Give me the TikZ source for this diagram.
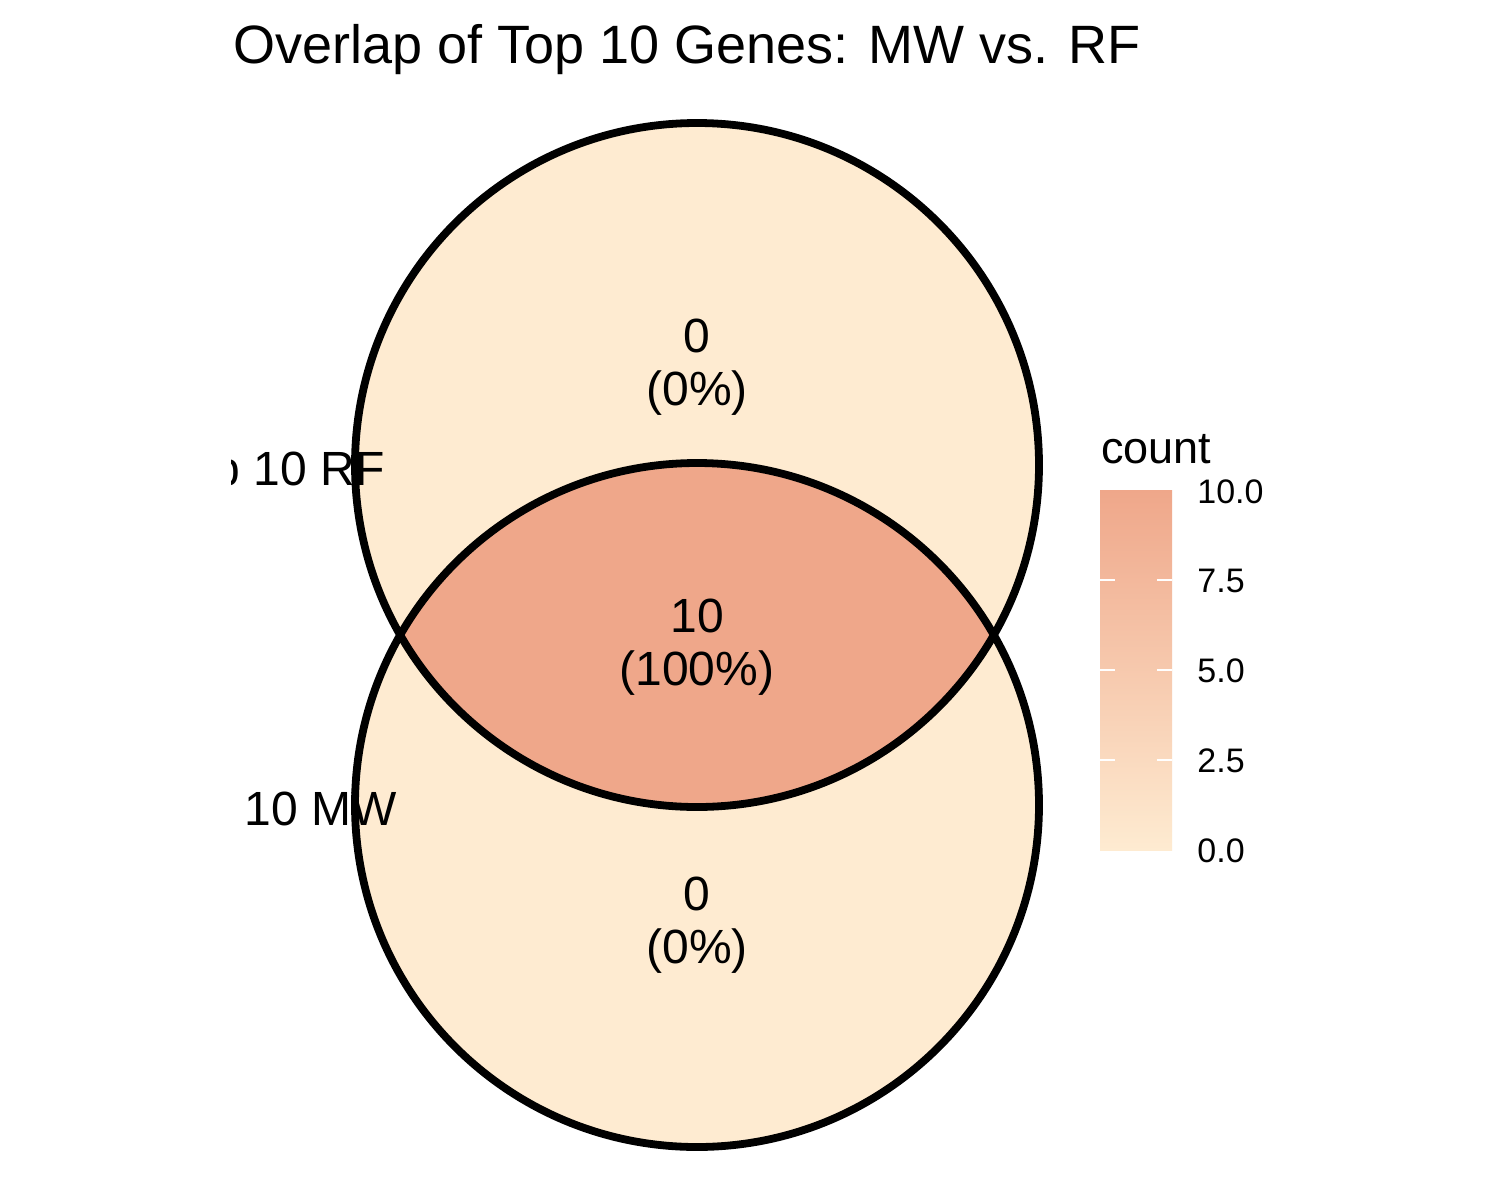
\documentclass[tikz,border=0pt]{standalone}
\usepackage{fontspec}
\setmainfont{Liberation Sans}
\definecolor{venlight}{RGB}{254,235,209}
\definecolor{vendark}{RGB}{239,167,138}
\begin{document}
\begin{tikzpicture}[x=0.5pt,y=-0.5pt,
  lbl/.style={font=\fontsize{24pt}{28pt}\selectfont, anchor=base, inner sep=0pt},
  ticklbl/.style={font=\fontsize{17pt}{20pt}\selectfont, anchor=base west, inner sep=0pt},
  border/.style={line width=3.9pt, black},
  tickmark/.style={white, line width=1pt}]
\useasboundingbox (0,0) rectangle (1500,1200);
\fill[white] (0,0) rectangle (1500,1200);
\coordinate (cA) at (697,465);
\coordinate (cB) at (697,805);
% fills
\fill[venlight] (cA) circle[radius=342];
\fill[venlight] (cB) circle[radius=342];
\begin{scope}
  \clip (cA) circle[radius=342];
  \fill[vendark] (cB) circle[radius=342];
\end{scope}
% region labels
\node[lbl] (a1) at (697,352) {0};
\node[lbl] (a2) at (697,405) {(0\%)};
\node[lbl] (ab1) at (697,632) {10};
\node[lbl] (ab2) at (697,685) {(100\%)};
\node[lbl] (b1) at (697,910) {0};
\node[lbl] (b2) at (697,963) {(0\%)};
% set labels (clipped at panel edge)
\begin{scope}
  \clip (231,0) rectangle (1500,1200);
  \node[lbl, anchor=base east] (setRF) at (385,485) {Top 10 RF};
  \node[lbl, anchor=base east] (setMW) at (397,825) {Top 10 MW};
\end{scope}
% borders
\draw[border] (cA) circle[radius=342];
\draw[border] (cB) circle[radius=342];
% title
\node[font=\fontsize{27pt}{32pt}\selectfont, anchor=base west, inner sep=0pt] (title) at (233,63) {Overlap of Top 10 Genes: MW vs. RF};
% legend
\node[font=\fontsize{22.5pt}{26pt}\selectfont, anchor=base west, inner sep=0pt] (legT) at (1101,463) {count};
\shade[top color=vendark, bottom color=venlight] (1100,490) rectangle (1172,850);
\foreach \yy in {580,670,760}{
  \draw[tickmark] (1100,\yy) -- (1115,\yy);
  \draw[tickmark] (1157,\yy) -- (1172,\yy);
}
\node[ticklbl] (t100) at (1197,503) {10.0};
\node[ticklbl] (t75) at (1197,592) {7.5};
\node[ticklbl] (t50) at (1197,682) {5.0};
\node[ticklbl] (t25) at (1197,772) {2.5};
\node[ticklbl] (t00) at (1197,862) {0.0};
\end{tikzpicture}
\end{document}
